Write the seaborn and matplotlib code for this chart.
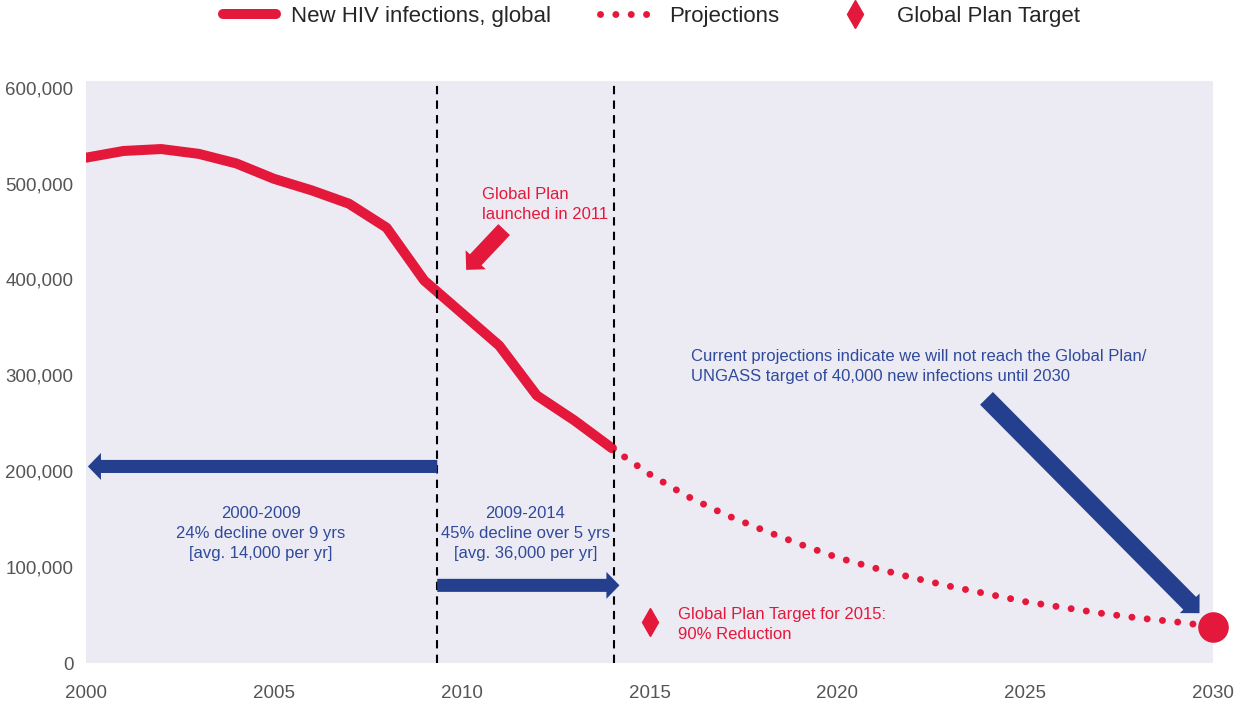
import matplotlib
matplotlib.use("Agg")
import matplotlib.pyplot as plt
import seaborn as sns

# Dados
years = list(range(2000, 2015))
infections = [527000, 534000, 536000, 531000, 521000, 505000, 493000, 479000,
              454000, 399000, 365000, 331000, 279000, 253000, 224000]

proj_years = list(range(2014, 2031))
projections = [224000, 197000, 174000, 155000, 139000, 124000, 110000, 99000,
               89000, 80000, 72000, 64000, 58000, 52000, 47000, 43000, 38000]

target_year = 2015
target_value = 43000
end_year = 2030
end_value = 38000

period_lines = [2009.35, 2014.05]
x_ticks = [2000, 2005, 2010, 2015, 2020, 2025, 2030]
y_ticks = [0, 100000, 200000, 300000, 400000, 500000, 600000]

RED = "#E3183A"
BLUE = "#243F8E"
TEXT_BLUE = "#2F4A9A"

sns.set_theme(style="dark", rc={"axes.facecolor": "#ECEBF4"})
plt.rcParams["font.family"] = ["Liberation Sans", "DejaVu Sans"]

fig = plt.figure(figsize=(12.36, 7.04), dpi=100)
ax = fig.add_axes([0.0696, 0.0582, 0.9118, 0.8268])

# linha principal e projeções
sns.lineplot(x=years, y=infections, ax=ax, color=RED, lw=7.2,
             solid_capstyle="round", label="New HIV infections, global")
sns.lineplot(x=proj_years, y=projections, ax=ax, color=RED, lw=5,
             linestyle=(0, (0.01, 2.2)), dash_capstyle="round",
             label="Projections")
ax.plot([target_year], [target_value], marker="d", ms=22, color=RED,
        ls="none", label="Global Plan Target", clip_on=False)
ax.plot([end_year], [end_value], marker="o", ms=21, color=RED, ls="none",
        clip_on=False)

for xv in period_lines:
    ax.axvline(xv, color="black", lw=1.5, ls=(0, (4, 3)))

ax.set_xlim(2000, 2030)
ax.set_ylim(0, 607000)
ax.set_xticks(x_ticks)
ax.set_yticks(y_ticks)
ax.set_yticklabels([f"{v:,}" for v in y_ticks])
ax.tick_params(axis="x", pad=10, labelsize=13.5, colors="#555555")
ax.tick_params(axis="y", pad=3, labelsize=13.5, colors="#555555")
ax.set_xlabel("")
ax.set_ylabel("")
for s in ax.spines.values():
    s.set_visible(False)

# setas
def arrow(tail, tip, color, tw, hw, hl):
    ax.annotate("", xy=tip, xytext=tail, annotation_clip=False,
                arrowprops=dict(arrowstyle=f"simple,head_length={hl},head_width={hw},tail_width={tw}",
                                color=color, shrinkA=0, shrinkB=0, lw=0,
                                mutation_scale=1))

arrow((2009.35, 205000), (2000.05, 205000), BLUE, 9.4, 19.4, 9.4)
arrow((2009.35, 81000), (2014.2, 81000), BLUE, 9.4, 19.4, 9.4)
arrow((2023.97, 276000), (2029.64, 52000), BLUE, 13, 20, 10)
arrow((2011.13, 452000), (2010.12, 410000), RED, 11.5, 20, 10)

# textos
txt = dict(fontsize=12, linespacing=1.42)
ax.text(2010.55, 496000, "Global Plan\nlaunched in 2011", color=RED,
        va="top", ha="left", **txt)
ax.text(2016.1, 327000,
        "Current projections indicate we will not reach the Global Plan/\n"
        "UNGASS target of 40,000 new infections until 2030",
        color=TEXT_BLUE, va="top", ha="left", **txt)
ax.text(2004.65, 164000, "2000-2009\n24% decline over 9 yrs\n[avg. 14,000 per yr]",
        color=TEXT_BLUE, va="top", ha="center", **txt)
ax.text(2011.7, 164000, "2009-2014\n45% decline over 5 yrs\n[avg. 36,000 per yr]",
        color=TEXT_BLUE, va="top", ha="center", **txt)
ax.text(2015.75, 58000, "Global Plan Target for 2015:\n90% Reduction",
        color=RED, va="top", ha="left", **txt)

# legenda
handles, labels = ax.get_legend_handles_labels()
handles[2].set_markersize(14)
ax.get_legend().remove()
fig.legend(handles, labels, loc="upper center", bbox_to_anchor=(0.527, 1.02),
           ncol=3, frameon=False, fontsize=16, handlelength=2.4,
           columnspacing=2.2, handletextpad=0.7)

fig.savefig("out.png", dpi=100)
